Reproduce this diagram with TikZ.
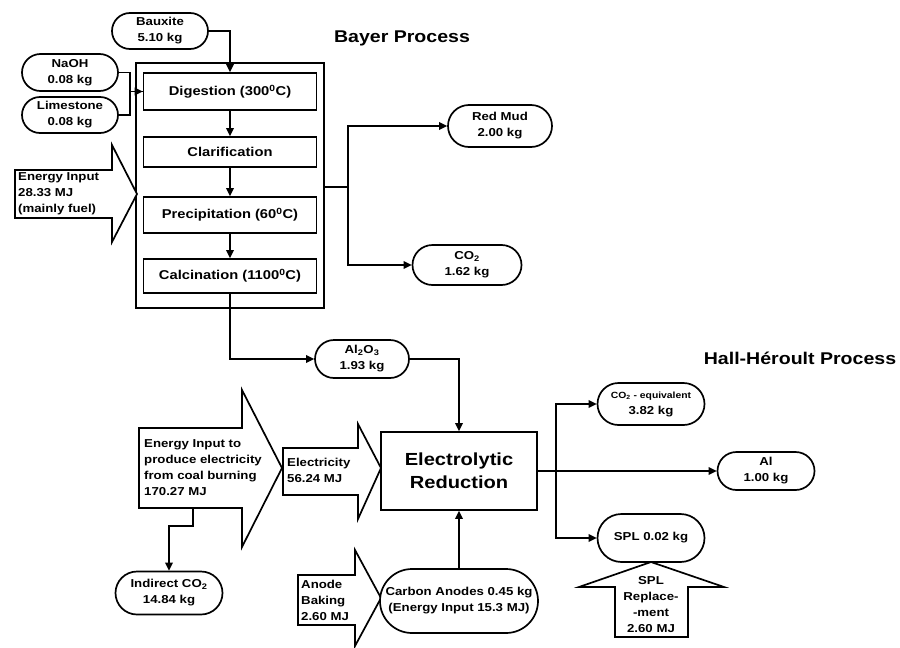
\documentclass[tikz,border=0pt]{standalone}
\usepackage{fontspec}
\setmainfont{Liberation Sans}[FakeStretch=1.15]
\usetikzlibrary{shapes.misc,arrows.meta}
\begin{document}
\begin{tikzpicture}[x=1pt,y=-1pt,
  lw/.style={line width=1.7pt},
  lbl/.style={font=\bfseries\fontsize{11.5}{16}\selectfont},
  pill/.style={rounded rectangle, draw, lw, align=center, inner sep=0pt, lbl, fill=white},
  stepbox/.style={draw, lw, inner sep=0pt, font=\bfseries\fontsize{12.8}{15}\selectfont, minimum width=173pt},
  conn/.style={lw, -{Triangle[length=8pt,width=7.5pt]}},
  barrow/.style={draw, lw, fill=white, line join=miter},
  title/.style={font=\bfseries\fontsize{17}{20}\selectfont}]
\useasboundingbox (0,0) rectangle (900,648);

% titles
\node[title] (tbayer) at (402,38) {Bayer Process};
\node[title] (thall) at (800,358) {Hall-Héroult Process};

% Bayer block
\node[draw, lw, minimum width=188pt, minimum height=245pt] (bayer) at (230,185.5) {};
\node[stepbox, minimum height=37pt] (digest) at (230,91.5) {Digestion (300\textsuperscript{0}C)};
\node[stepbox, minimum height=30pt] (clar) at (230,152) {Clarification};
\node[stepbox, minimum height=36pt] (precip) at (230,215) {Precipitation (60\textsuperscript{0}C)};
\node[stepbox, minimum height=34pt] (calc) at (230,276) {Calcination (1100\textsuperscript{0}C)};
\draw[conn] (digest.south) -- (clar.north);
\draw[conn] (clar.south) -- (precip.north);
\draw[conn] (precip.south) -- (calc.north);

% inputs
\node[pill, minimum width=96pt, minimum height=36pt] (baux) at (160,31) {Bauxite\\5.10 kg};
\node[pill, minimum width=96pt, minimum height=37pt] (naoh) at (70,72.5) {NaOH\\0.08 kg};
\node[pill, minimum width=96pt, minimum height=36pt] (lime) at (70,115) {Limestone\\0.08 kg};
\draw[conn] (baux.east) -| (digest.north);
\draw[lw] (lime.east) -- ++(11,0) |- (digest.west);
\draw[conn] (naoh.east) -- ++(11,0) |- (digest.west);

% energy input arrow
\draw[barrow] (15,170) -- (112,170) -- (112,145) -- (137,194) -- (112,242) -- (112,218) -- (15,218) -- cycle;
\node[lbl, align=left, anchor=west, inner sep=0pt] (ein) at (18,194) {Energy Input\\28.33 MJ\\(mainly fuel)};

% Bayer outputs
\node[pill, minimum width=104pt, minimum height=42pt] (redmud) at (500,126) {Red Mud\\2.00 kg};
\node[pill, minimum width=109pt, minimum height=40pt] (co2a) at (467,265) {CO\textsubscript{2}\\1.62 kg};
\coordinate (bsplit) at (348,187);
\draw[lw] (bayer.east |- bsplit) -- (bsplit);
\draw[conn] (bsplit) |- (redmud.west);
\draw[conn] (bsplit) |- (co2a.west);

% alumina
\node[pill, minimum width=94pt, minimum height=38pt] (al2o3) at (362,359) {Al\textsubscript{2}O\textsubscript{3}\\1.93 kg};
\draw[conn] (calc.south) |- (al2o3.west);

% electrolytic reduction
\node[draw, lw, minimum width=156pt, minimum height=78pt, align=center, font=\bfseries\fontsize{17.5}{23}\selectfont] (elec) at (459,471) {Electrolytic\\Reduction};
\draw[conn] (al2o3.east) -| (elec.north);

% power arrow
\draw[barrow] (139,428) -- (242,428) -- (242,390) -- (282,468) -- (242,547) -- (242,508) -- (139,508) -- cycle;
\node[lbl, align=left, anchor=west, inner sep=0pt] (epow) at (144,468) {Energy Input to\\produce electricity\\from coal burning\\170.27 MJ};
\coordinate (pw) at (193,508);
\node[pill, minimum width=107pt, minimum height=43pt] (indco2) at (169,593) {Indirect CO\textsubscript{2}\\14.84 kg};
\draw[conn] (pw) -- ++(0,18) -| (indco2.north);

% electricity arrow
\draw[barrow] (283,448) -- (358,448) -- (358,424) -- (381,468) -- (358,519) -- (358,495) -- (283,495) -- cycle;
\node[lbl, align=left, anchor=west, inner sep=0pt] (eel) at (287,470) {Electricity\\56.24 MJ};

% anode baking arrow
\draw[barrow] (298,575) -- (355,575) -- (355,550) -- (381,598) -- (355,646) -- (355,625) -- (298,625) -- cycle;
\node[lbl, align=left, anchor=west, inner sep=0pt] (eab) at (301,600) {Anode\\Baking\\2.60 MJ};

% carbon anodes
\node[pill, minimum width=158pt, minimum height=64pt] (anode) at (459,601) {Carbon Anodes 0.45 kg\\(Energy Input 15.3 MJ)};
\draw[conn] (anode.north) -- (elec.south);

% Hall-Heroult outputs
\node[pill, minimum width=107pt, minimum height=42pt] (co2e) at (651,404) {{\fontsize{9}{12}\selectfont CO\textsubscript{2} - equivalent}\\3.82 kg};
\node[pill, minimum width=97pt, minimum height=38pt] (al) at (766,471) {Al\\1.00 kg};
\node[pill, minimum width=107pt, minimum height=48pt] (spl) at (651,538) {SPL 0.02 kg};
\coordinate (hsplit) at (556,471);
\draw[lw] (elec.east) -- (hsplit);
\draw[conn] (hsplit) -- (al.west);
\draw[conn] (hsplit) |- (co2e.west);
\draw[conn] (hsplit) |- (spl.west);

% SPL replacement arrow
\draw[barrow] (651,562) -- (724,587) -- (688,587) -- (688,637) -- (615,637) -- (615,587) -- (579,587) -- cycle;
\node[lbl, align=center, inner sep=0pt] (esp) at (651,605) {SPL\\Replace-\\-ment\\2.60 MJ};
\end{tikzpicture}
\end{document}
